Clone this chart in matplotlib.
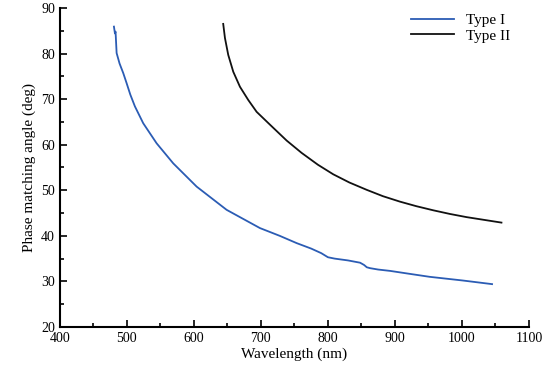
import matplotlib
matplotlib.use('Agg')
import matplotlib.pyplot as plt
from matplotlib.ticker import MultipleLocator

# Type I (blue)
wl_1 = [480.6, 482.1, 483.0, 484.6, 489, 494.5, 499.5, 505, 511.9, 524.3, 544.3,
        569.1, 604.0, 648.8, 698.5, 728, 753.3, 775, 790, 800, 810, 830, 848,
        854, 858, 863, 875, 893, 920, 952, 1001, 1045]
ang_1 = [85.9, 84.4, 84.8, 80.1, 77.8, 75.7, 73.5, 71.0, 68.4, 64.7, 60.3,
         55.9, 50.8, 45.7, 41.7, 40.0, 38.4, 37.2, 36.2, 35.3, 35.0, 34.6, 34.1,
         33.6, 33.1, 32.9, 32.6, 32.3, 31.7, 31.0, 30.2, 29.4]

# Type II (black)
wl_2 = [643.7, 646.3, 651.2, 658.7, 668.7, 681.1, 693.6, 713.4, 738.4, 760.7,
        785, 807.9, 832, 857.7, 882, 907.5, 932, 957.2, 982, 1007, 1033, 1059]
ang_2 = [86.5, 83.4, 79.7, 76.0, 72.7, 69.8, 67.2, 64.4, 60.9, 58.2,
         55.6, 53.5, 51.7, 50.1, 48.7, 47.5, 46.5, 45.6, 44.8, 44.1, 43.5, 42.9]

plt.rcParams['font.family'] = ['Liberation Serif', 'DejaVu Serif']

fig = plt.figure(figsize=(5.55, 3.78), dpi=100)
ax = fig.add_axes([0.108, 0.135, 0.845, 0.844])

ax.plot(wl_1, ang_1, color='#2b5cb4', lw=1.3, label='Type I')
ax.plot(wl_2, ang_2, color='#111111', lw=1.3, label='Type II')

ax.set_xlim(400, 1100)
ax.set_ylim(20, 90)
ax.xaxis.set_major_locator(MultipleLocator(100))
ax.xaxis.set_minor_locator(MultipleLocator(50))
ax.yaxis.set_major_locator(MultipleLocator(10))
ax.yaxis.set_minor_locator(MultipleLocator(5))
ax.tick_params(which='both', direction='in', labelsize=10, width=1.2)
ax.tick_params(which='major', length=5)
ax.tick_params(which='minor', length=3)

for s in ['top', 'right']:
    ax.spines[s].set_visible(False)
for s in ['left', 'bottom']:
    ax.spines[s].set_linewidth(1.5)

ax.set_xlabel('Wavelength (nm)', fontsize=11, labelpad=2)
ax.set_ylabel('Phase matching angle (deg)', fontsize=11, labelpad=4)

ax.legend(loc='upper right', frameon=False, fontsize=11, handlelength=2.8,
          labelspacing=0.1, bbox_to_anchor=(0.99, 1.025))

fig.savefig('out.png', dpi=100)
